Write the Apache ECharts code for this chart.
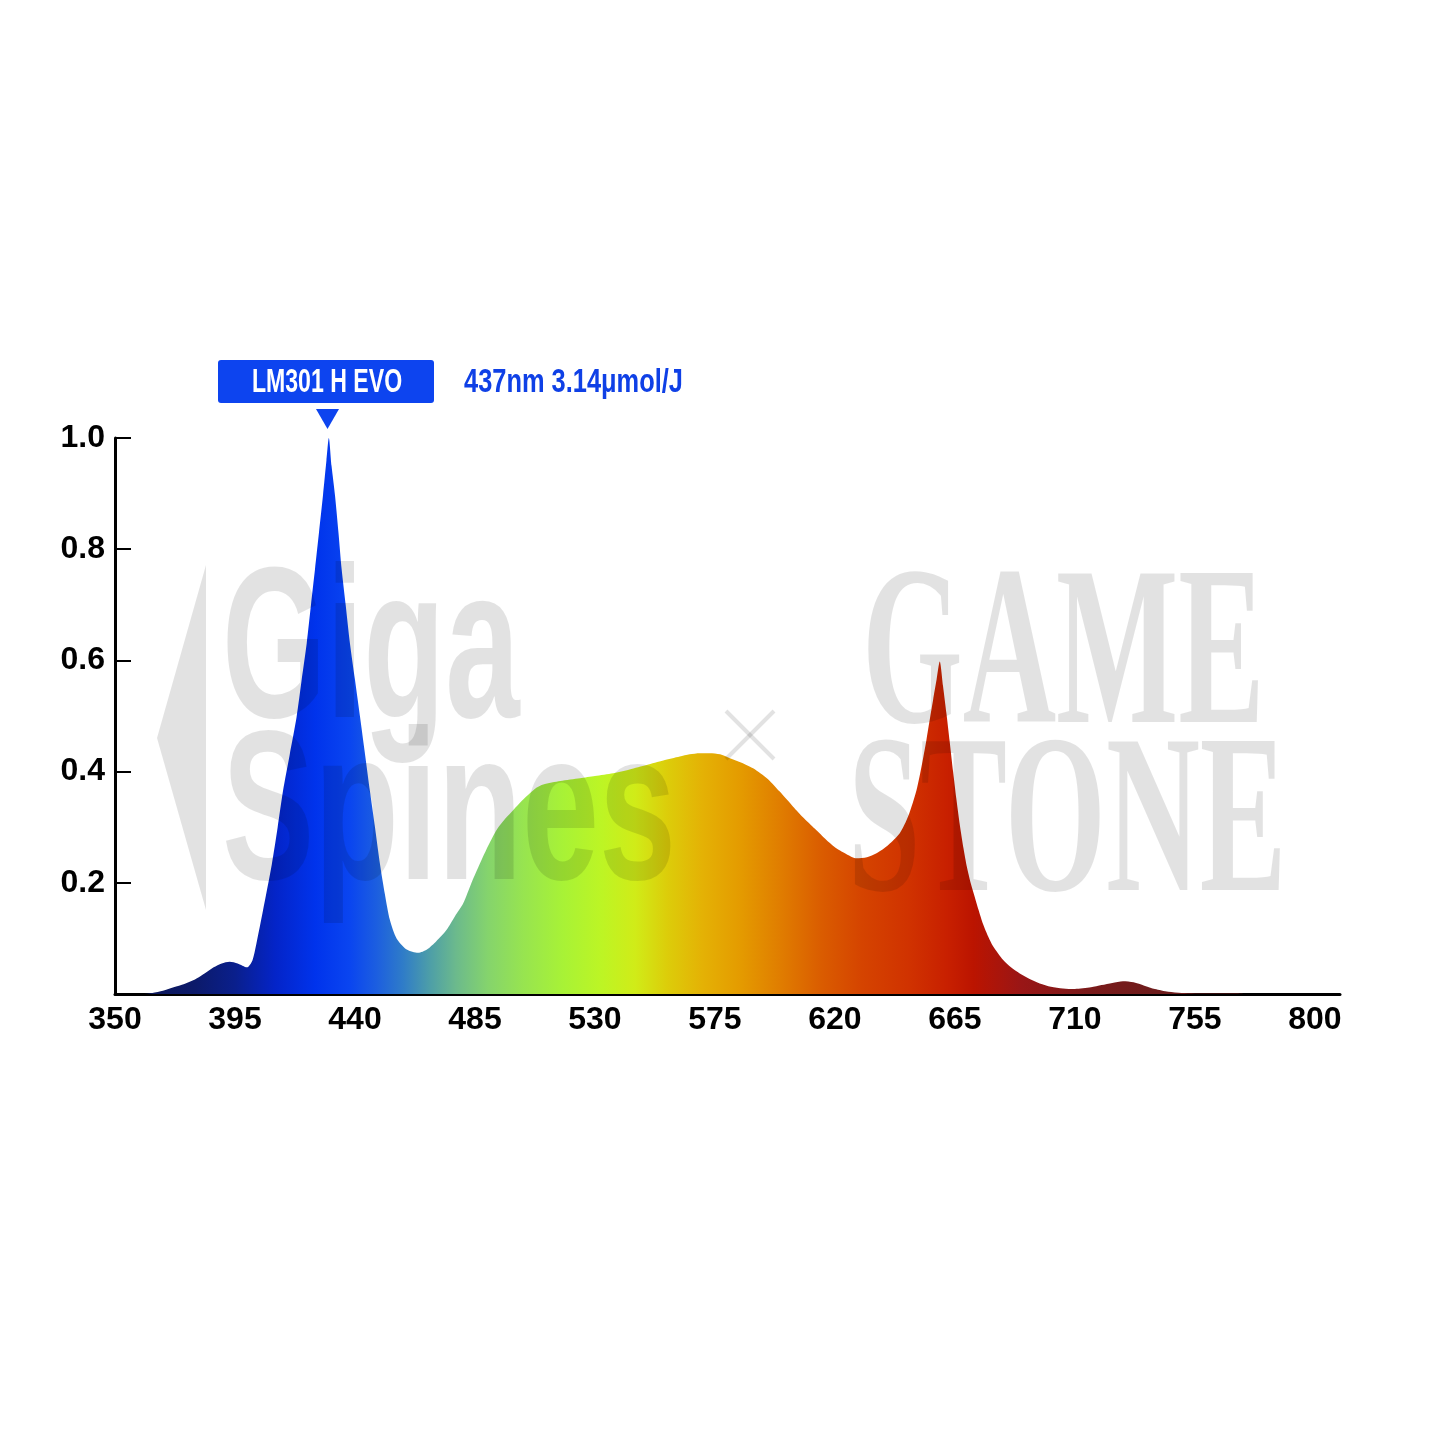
<!DOCTYPE html>
<html><head><meta charset="utf-8">
<script src="https://cdn.jsdelivr.net/npm/echarts/dist/echarts.min.js"></script>
<style>html,body{margin:0;padding:0;background:#fff}#c{width:1445px;height:1445px}</style>
</head><body><div id="c"></div>
<script>
// ---- data ----
const wavelengths = [350,360,364,368,372,376,380,384,387,390,393,396,399.5,401.5,403,405.5,408.8,411,413,415.5,418.1,420,421.9,423.5,425,426.5,428,429.3,430.2,431.2,432.5,433.8,435,436.5,438.1,440,441.9,443.8,445.6,447.5,449.4,451.2,453.1,455.6,459.4,463.7,467,470.5,474.3,477.5,480.6,483.7,486.9,490,493.1,496.3,499.4,502.5,505.6,508,510.6,517,524.4,530,536.8,543,549.4,555.6,561.8,565.5,569.3,573,576.9,580.6,585,589.3,592,595,599.3,604.3,608,612.5,616.8,620.5,624.5,628.1,632,635.6,640,644.3,647.5,650.6,652.5,654.3,655.6,656.8,658.1,659.3,660.5,661.8,663,664.3,665.5,666.8,668.2,669.5,671,672.2,673.8,675.6,677.5,679.3,683.1,686,689.3,693,696.8,701,705.5,710,716,720,724,728,732,736,740,745,750,760,770,775,800];
const intensity = [0,0,0.002,0.006,0.012,0.018,0.026,0.038,0.048,0.055,0.058,0.055,0.048,0.06,0.09,0.15,0.233,0.30,0.365,0.43,0.498,0.565,0.631,0.70,0.764,0.83,0.897,0.96,1.0,0.95,0.897,0.83,0.764,0.70,0.631,0.565,0.498,0.43,0.365,0.30,0.233,0.18,0.133,0.10,0.08,0.074,0.08,0.095,0.115,0.14,0.163,0.2,0.235,0.267,0.295,0.315,0.331,0.347,0.361,0.371,0.377,0.383,0.388,0.392,0.397,0.404,0.412,0.42,0.427,0.431,0.433,0.433,0.431,0.424,0.416,0.406,0.397,0.386,0.364,0.337,0.318,0.297,0.277,0.262,0.251,0.244,0.246,0.253,0.268,0.289,0.32,0.367,0.41,0.457,0.495,0.529,0.565,0.598,0.555,0.505,0.455,0.40,0.352,0.305,0.262,0.228,0.198,0.178,0.152,0.125,0.103,0.086,0.061,0.048,0.037,0.027,0.019,0.013,0.01,0.009,0.012,0.016,0.02,0.023,0.021,0.015,0.009,0.004,0.002,0.001,0.001,0,0];
const xTicks = [350,395,440,485,530,575,620,665,710,755,800];
const yTicks = [0.2,0.4,0.6,0.8,1.0];
const productName = 'LM301 H EVO';
const productSpec = '437nm 3.14μmol/J';
const watermarkA = ['Giga','Spines'];
const watermarkB = ['GAME','STONE'];

// ---- chart ----
const X_MIN = 350, X_SPAN = 450;
const stop = (nm, c) => ({offset: (nm - X_MIN) / X_SPAN, color: c});
const spectrum = [
  stop(350,'#0b1650'), stop(380,'#0c1a6a'), stop(395,'#0a1f8c'), stop(410,'#0424c8'),
  stop(425,'#0033ec'), stop(438,'#0a45f0'), stop(448,'#1c5ee0'), stop(458,'#2f7cc8'),
  stop(468,'#4d9ea8'), stop(478,'#6cba8c'), stop(490,'#85d46c'), stop(503,'#97e450'),
  stop(518,'#a8f236'), stop(532,'#bcf525'), stop(545,'#d0ec18'), stop(557,'#dccd0a'),
  stop(570,'#e4b205'), stop(585,'#e49a00'), stop(600,'#e07c00'), stop(615,'#da5c00'),
  stop(630,'#d54400'), stop(648,'#d03200'), stop(662,'#c82000'), stop(672,'#bb1400'),
  stop(690,'#991616'), stop(715,'#7a1a1a'), stop(740,'#6e1c1c'), stop(800,'#6e1c1c')
];
const seriesData = wavelengths.map((w, i) => [w, intensity[i]]);
const FONT = '"Liberation Sans",Arial,sans-serif';
const WM = 'rgba(0,0,0,0.115)';

const chart = echarts.init(document.getElementById('c'), null, {renderer: 'canvas'});
chart.setOption({
  animation: false,
  backgroundColor: '#fff',
  grid: {left: 115, right: 105, top: 438, bottom: 451, containLabel: false},
  xAxis: {
    type: 'value', min: 350, max: 809.4, interval: 45,
    axisLine: {show: true, lineStyle: {color: '#000', width: 3}},
    axisTick: {show: false}, splitLine: {show: false},
    axisLabel: {color: '#000', fontSize: 32, fontWeight: 'bold', fontFamily: FONT, margin: 10,
      formatter: v => xTicks.includes(v) ? String(v) : ''}
  },
  yAxis: {
    type: 'value', min: 0, max: 1, interval: 0.2,
    axisLine: {show: true, lineStyle: {color: '#000', width: 3}},
    axisTick: {show: true, inside: true, length: 16, lineStyle: {color: '#000', width: 2}},
    splitLine: {show: false},
    axisLabel: {color: '#000', fontSize: 32, fontWeight: 'bold', fontFamily: FONT, margin: 10,
      formatter: v => yTicks.some(t => Math.abs(t - v) < 1e-6) ? v.toFixed(1) : ''}
  },
  series: [{
    type: 'line', data: seriesData, smooth: 0.25, showSymbol: false, silent: true,
    lineStyle: {width: 0},
    areaStyle: {opacity: 1, color: {type: 'linear', x: 0, y: 0, x2: 1, y2: 0, colorStops: spectrum}},
    z: 2
  }],
  graphic: [
    // watermark Giga Spines
    {type: 'polygon', z: 100, silent: true, shape: {points: [[206,565],[157,738],[206,910]]}, style: {fill: WM}},
    {type: 'text', z: 100, silent: true, x: 222, y: 657, scaleX: 0.62,
      style: {text: watermarkA[0], fill: WM, font: 'bold 216px ' + FONT, align: 'left', verticalAlign: 'middle'}},
    {type: 'text', z: 100, silent: true, x: 222, y: 820, scaleX: 0.65,
      style: {text: watermarkA[1], fill: WM, font: 'bold 213px ' + FONT, align: 'left', verticalAlign: 'middle'}},
    {type: 'line', z: 100, silent: true, shape: {x1: 726, y1: 711, x2: 774, y2: 759}, style: {stroke: WM, lineWidth: 4}},
    {type: 'line', z: 100, silent: true, shape: {x1: 774, y1: 711, x2: 726, y2: 759}, style: {stroke: WM, lineWidth: 4}},
    {type: 'text', z: 100, silent: true, x: 862, y: 663, scaleX: 0.57,
      style: {text: watermarkB[0], fill: WM, font: 'bold 227px "Liberation Serif",serif', align: 'left', verticalAlign: 'middle'}},
    {type: 'text', z: 100, silent: true, x: 848, y: 831, scaleX: 0.573,
      style: {text: watermarkB[1], fill: WM, font: 'bold 227px "Liberation Serif",serif', align: 'left', verticalAlign: 'middle'}},
    // header
    {type: 'rect', z: 110, shape: {x: 218, y: 360, width: 216, height: 43, r: 3}, style: {fill: '#0d44ef'}},
    {type: 'text', z: 111, x: 327, y: 383, scaleX: 0.70,
      style: {text: productName, fill: '#fff', font: 'bold 33px ' + FONT, align: 'center', verticalAlign: 'middle'}},
    {type: 'polygon', z: 110, shape: {points: [[316,409],[339,409],[327.5,429]]}, style: {fill: '#0d44ef'}},
    {type: 'text', z: 111, x: 464, y: 383, scaleX: 0.77,
      style: {text: productSpec, fill: '#0f40e6', font: 'bold 33px ' + FONT, align: 'left', verticalAlign: 'middle'}}
  ]
});
</script></body></html>
